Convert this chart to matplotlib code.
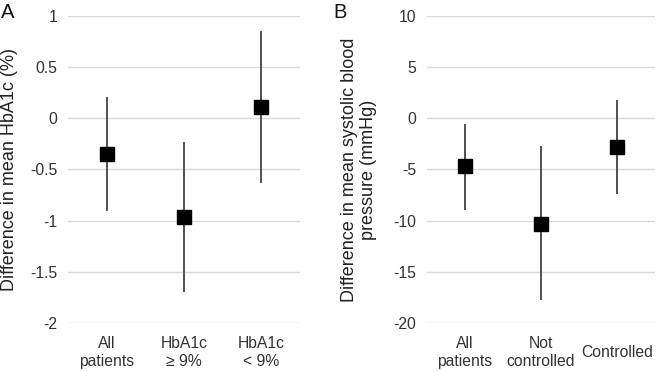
import matplotlib
matplotlib.use("Agg")
import matplotlib.pyplot as plt

plt.rcParams['font.family'] = ['Liberation Sans', 'DejaVu Sans']

cats_a = ["All\npatients", "HbA1c\n≥ 9%", "HbA1c\n< 9%"]
mean_a = [-0.35, -0.96, 0.11]
low_a = [-0.90, -1.69, -0.62]
high_a = [0.20, -0.24, 0.84]
ticks_a = [1, 0.5, 0, -0.5, -1, -1.5, -2]
ticklabels_a = ["1", "0.5", "0", "-0.5", "-1", "-1.5", "-2"]

cats_b = ["All\npatients", "Not\ncontrolled", "Controlled"]
mean_b = [-4.7, -10.3, -2.8]
low_b = [-8.9, -17.7, -7.3]
high_b = [-0.7, -2.8, 1.7]
ticks_b = [10, 5, 0, -5, -10, -15, -20]
ticklabels_b = ["10", "5", "0", "-5", "-10", "-15", "-20"]

fig = plt.figure(figsize=(6.61, 3.71), dpi=100)
W, H = 661, 371

def make(ax, cats, mean, low, high, ticks, tlabels, ylabel, letter, lx):
    x = list(range(len(cats)))
    for xi, lo, hi in zip(x, low, high):
        ax.plot([xi, xi], [lo, hi], color="#505050", lw=1.4, zorder=2)
    ax.plot(x, mean, linestyle="none", marker="s", markersize=9.5,
            color="black", zorder=3)
    ax.set_xlim(-0.5, len(cats) - 0.5)
    ax.set_ylim(min(ticks), max(ticks))
    ax.set_yticks(ticks)
    ax.set_yticklabels(tlabels)
    ax.set_xticks(x)
    ax.set_xticklabels(cats, linespacing=1.25)
    for t in ax.get_xticklabels():
        t.set_verticalalignment("center")
    ax.tick_params(axis="x", length=0, pad=21, labelsize=11.3, colors="#333333")
    ax.tick_params(axis="y", length=0, pad=7.5, labelsize=11.3, colors="#333333")
    for s in ax.spines.values():
        s.set_visible(False)
    ax.yaxis.grid(True, color="#d9d9d9", lw=1.0)
    ax.set_axisbelow(True)
    ax.set_ylabel(ylabel, fontsize=13, color="#222222", linespacing=1.1)
    fig.text(lx / W, 1 - 12 / H, letter, fontsize=14.5, va="center", ha="left",
             color="#111111")

top = 1 - 16 / H
bot = 1 - 323 / H
ax1 = fig.add_axes([68 / W, bot, (300 - 68) / W, top - bot])
ax2 = fig.add_axes([427 / W, bot, (655 - 427) / W, top - bot])

make(ax1, cats_a, mean_a, low_a, high_a, ticks_a, ticklabels_a,
     "Difference in mean HbA1c (%)", "A", 1)
make(ax2, cats_b, mean_b, low_b, high_b, ticks_b, ticklabels_b,
     "Difference in mean systolic blood\npressure (mmHg)", "B", 333)
ax1.yaxis.set_label_coords((10 - 68) / 232, 0.5)
ax2.yaxis.set_label_coords((359 - 427) / 228, 0.5)
ax1.yaxis.label.set_verticalalignment("center")
ax2.yaxis.label.set_verticalalignment("center")

fig.savefig("out.png", dpi=100)
